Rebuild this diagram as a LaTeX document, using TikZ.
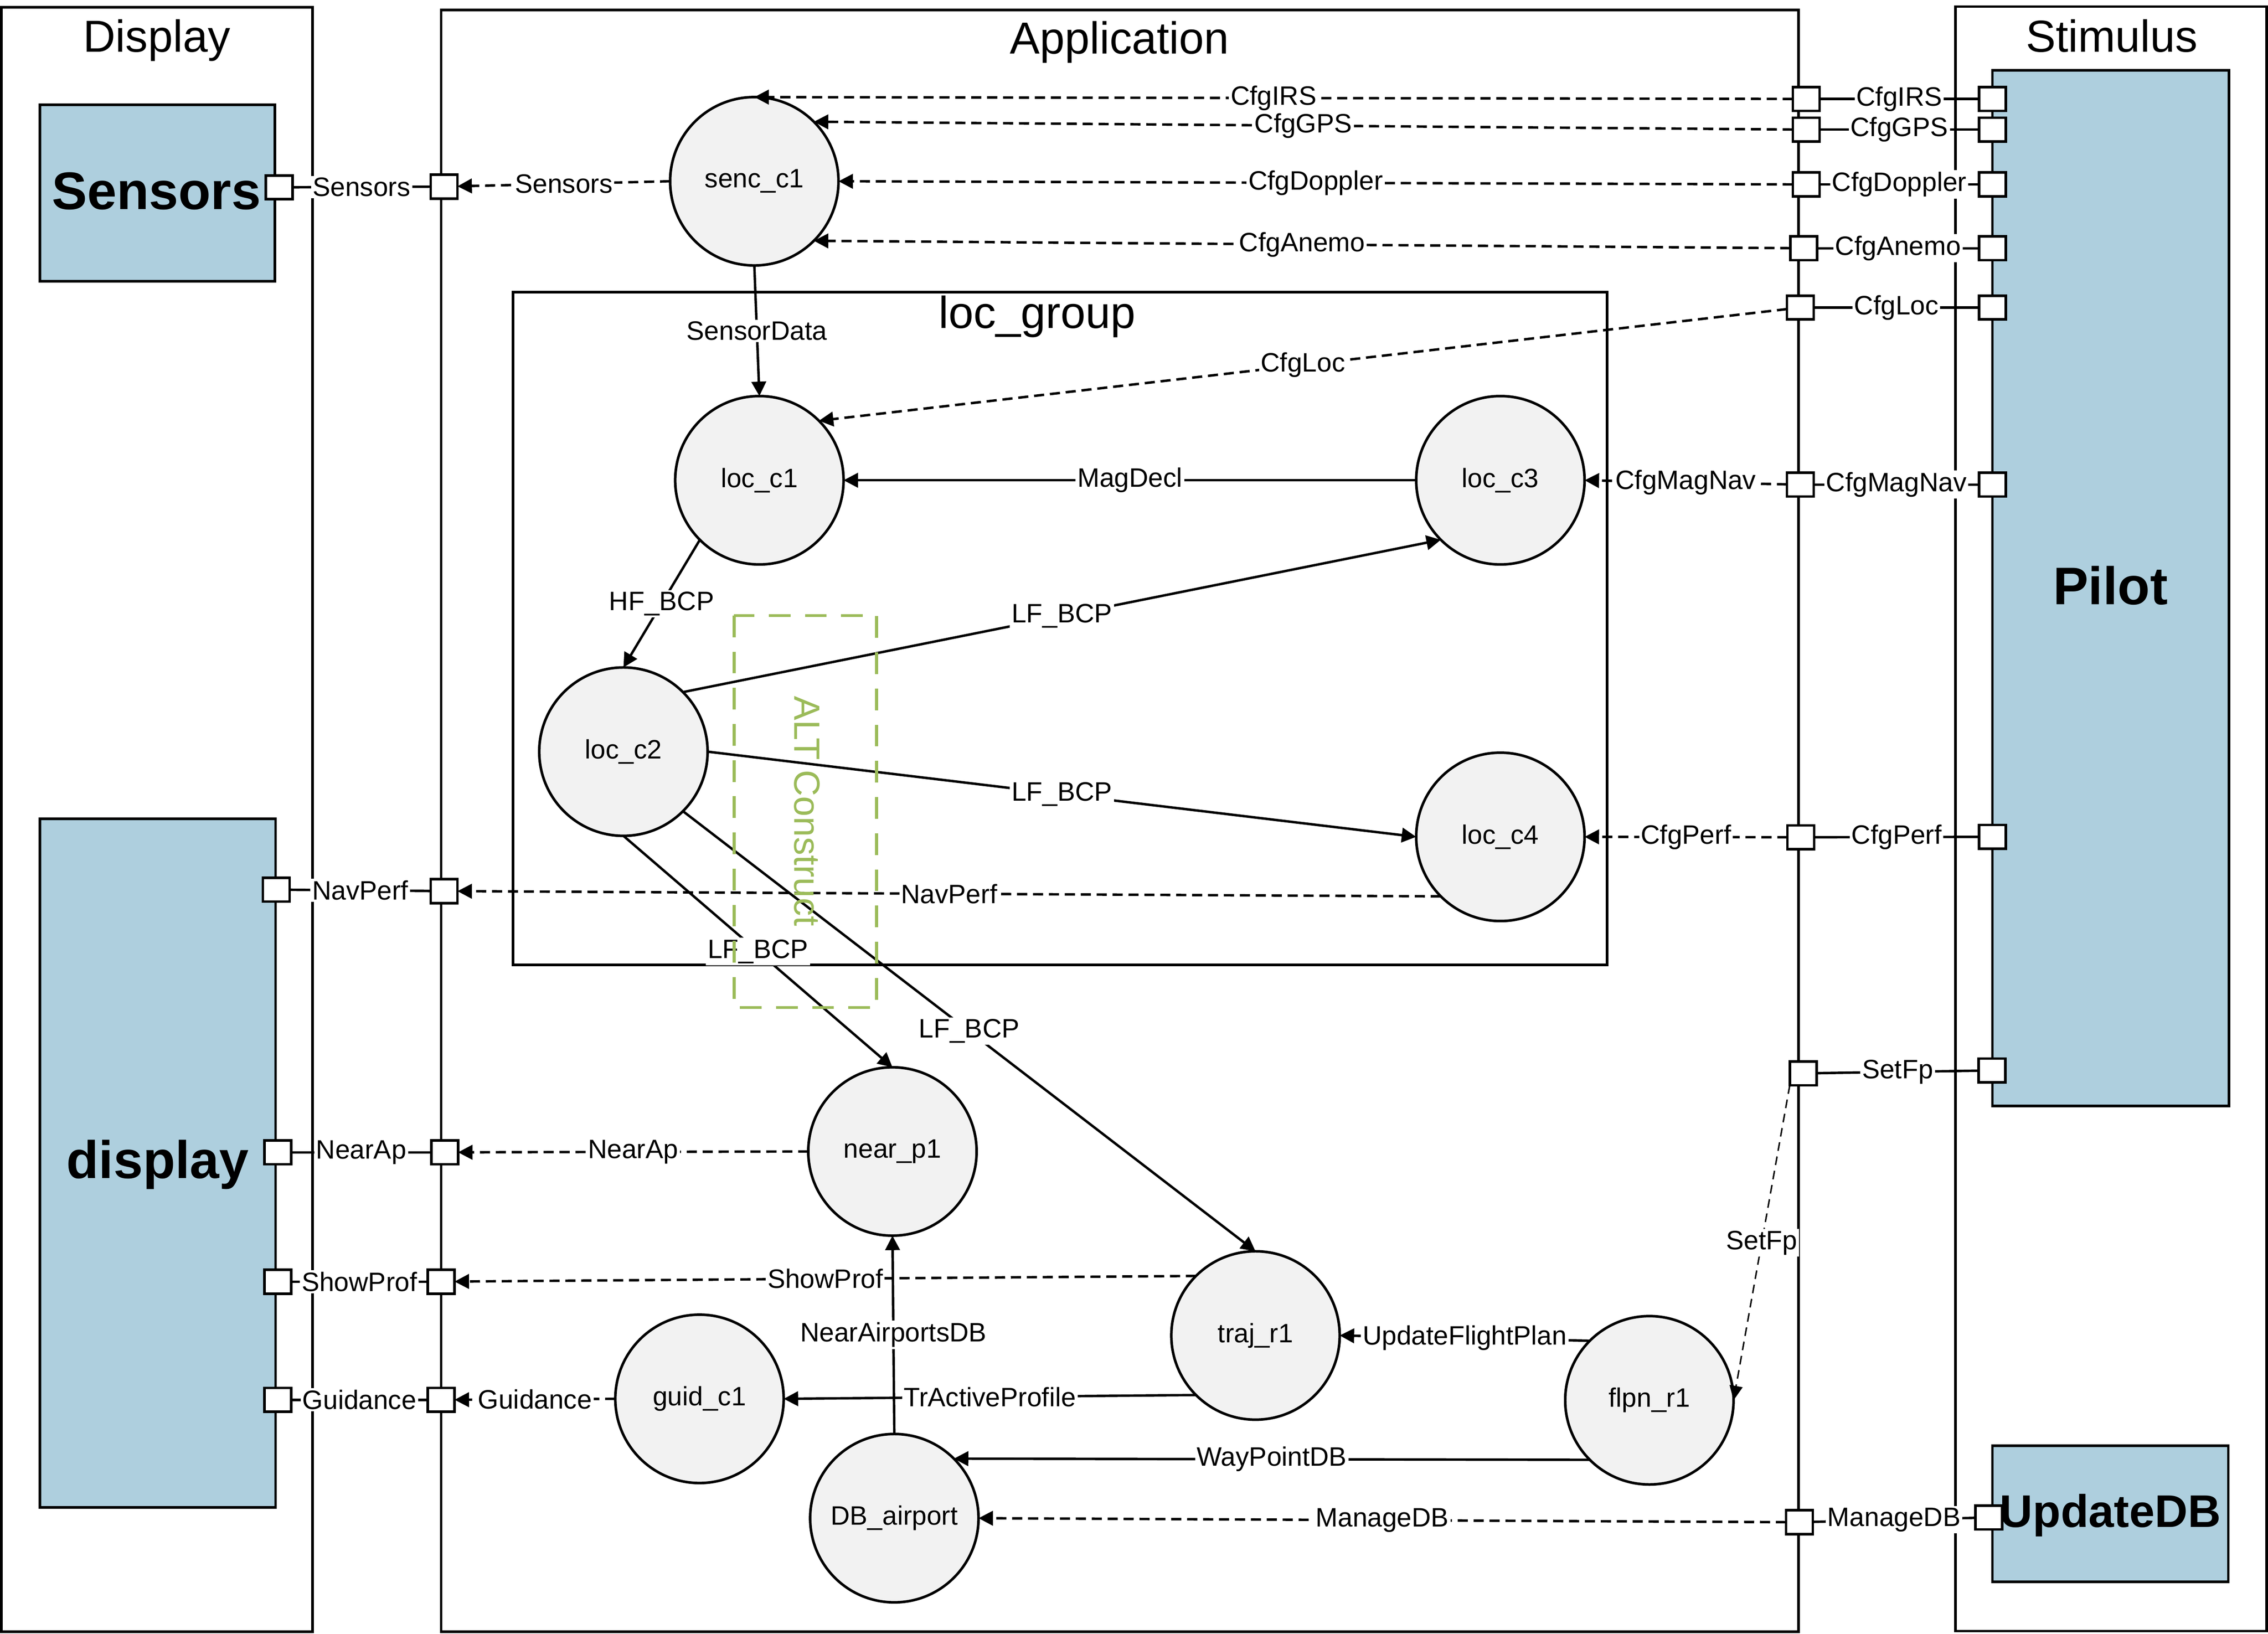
\documentclass[tikz,border=0pt]{standalone}
\usepackage{fontspec}
\setmainfont{Liberation Sans}
\usetikzlibrary{arrows.meta}
\definecolor{boxblue}{RGB}{174,207,222}
\definecolor{procgray}{RGB}{242,242,242}
\definecolor{altgreen}{RGB}{155,187,89}
\begin{document}
\begin{tikzpicture}[x=0.5pt,y=-0.5pt,
 frame/.style={draw,line width=0.9pt},
 comp/.style={draw,line width=0.9pt,fill=boxblue},
 grp/.style={draw,line width=0.9pt},
 altbox/.style={draw=altgreen,line width=1pt,dash pattern=on 7.5pt off 5pt},
 title/.style={font=\fontsize{15.5}{18}\selectfont,anchor=base,inner sep=0pt},
 big/.style={font=\fontsize{18.3}{22}\selectfont\bfseries,anchor=base,inner sep=0pt},
 proc/.style={circle,draw,line width=0.9pt,fill=procgray,minimum size=58.2pt,inner sep=0pt,outer sep=0pt,font=\fontsize{9.2}{11}\selectfont},
 port/.style={draw,line width=0.9pt,fill=white,minimum width=9.25pt,minimum height=8.25pt,inner sep=0pt,outer sep=0pt},
 lbl/.style={fill=white,inner sep=0.6pt,font=\fontsize{9.2}{11}\selectfont,midway},
 flow/.style={line width=0.85pt,-{Triangle[length=5pt,width=5pt]}},
 cfg/.style={flow,dash pattern=on 3.5pt off 2pt},
 thincfg/.style={line width=0.5pt,-{Triangle[length=5pt,width=4.5pt]},dash pattern=on 3pt off 2pt},
 link/.style={line width=0.85pt},
]
\useasboundingbox (0,0) rectangle (1568,1129.47);
% frames and components
\draw[frame] (1,5) rectangle (216,1128);
\draw[frame] (305,7) rectangle (1243.5,1128);
\draw[frame] (1352,4.5) rectangle (1567,1127.5);
\draw[comp] (27.5,72.5) rectangle (190,194.5);
\draw[comp] (27.5,566) rectangle (190.5,1042);
\draw[comp] (1377.5,48.5) rectangle (1541,764.5);
\draw[comp] (1377.5,999.5) rectangle (1540.5,1093.5);
\draw[grp] (354.6,202) rectangle (1111,667);
% titles
\node[title] (tDisp) at (108.4,36) {Display};
\node[title] (tApp) at (774,37) {Application};
\node[title] (tStim) at (1460,36) {Stimulus};
\node[title] (tLoc) at (717,227) {loc\_group};
\node[big] (bSens) at (108.2,144.6) {Sensors};
\node[big] (bDisp) at (109,814.5) {display};
\node[big] (bPilot) at (1459,418) {Pilot};
\node[big,font=\fontsize{15.8}{19}\selectfont\bfseries] (bUpd) at (1459,1055.8) {UpdateDB};
% processes
\node[proc] (senc) at (521.5,125.3) {senc\_c1};
\node[proc] (loc1) at (525,332) {loc\_c1};
\node[proc] (loc3) at (1037.3,332) {loc\_c3};
\node[proc] (loc2) at (431,519.6) {loc\_c2};
\node[proc] (loc4) at (1037.3,578.5) {loc\_c4};
\node[proc] (near) at (617,796) {near\_p1};
\node[proc] (guid) at (483.6,967) {guid\_c1};
\node[proc] (db) at (618.3,1049.5) {DB\_airport};
\node[proc] (traj) at (868,923.2) {traj\_r1};
\node[proc] (flpn) at (1140.3,968) {flpn\_r1};
% ports left
\node[port] (pSensD) at (193,129.5) {};
\node[port] (pSensA) at (307,129) {};
\node[port] (pNavD) at (191,615) {};
\node[port] (pNavA) at (307,616) {};
\node[port] (pNearD) at (192,796.6) {};
\node[port] (pNearA) at (307.4,796.6) {};
\node[port] (pShowD) at (192,886) {};
\node[port] (pShowA) at (305,886) {};
\node[port] (pGuidD) at (192,967.7) {};
\node[port] (pGuidA) at (305,967.7) {};
% ports right
\node[port] (pIRSa) at (1248.7,68.4) {};
\node[port] (pIRSs) at (1377.4,68.4) {};
\node[port] (pGPSa) at (1248.7,89.6) {};
\node[port] (pGPSs) at (1377.4,89.6) {};
\node[port] (pDopa) at (1248.7,127.5) {};
\node[port] (pDops) at (1377.4,127.5) {};
\node[port] (pAnea) at (1247,171.6) {};
\node[port] (pAnes) at (1377.4,171.6) {};
\node[port] (pLoca) at (1244.7,212.6) {};
\node[port] (pLocs) at (1377.4,212.6) {};
\node[port] (pMaga) at (1244.7,335) {};
\node[port] (pMags) at (1377.4,335) {};
\node[port] (pPerfa) at (1245,578.8) {};
\node[port] (pPerfs) at (1377.4,578.5) {};
\node[port] (pSetFpa) at (1246.6,742) {};
\node[port] (pSetFps) at (1377.2,740) {};
\node[port] (pMDBa) at (1244,1052.3) {};
\node[port] (pMDBs) at (1375,1049) {};
% port links
\draw[link] (pSensD) -- node[lbl] (kSens) {Sensors} (pSensA);
\draw[link] (pNavD) -- node[lbl] (kNav) {NavPerf} (pNavA);
\draw[link] (pNearD) -- node[lbl] (kNear) {NearAp} (pNearA);
\draw[link] (pShowD) -- node[lbl] (kShow) {ShowProf} (pShowA);
\draw[link] (pGuidD) -- node[lbl] (kGuid) {Guidance} (pGuidA);
\draw[link] (pIRSs) -- node[lbl] (kIRS) {CfgIRS} (pIRSa);
\draw[link] (pGPSs) -- node[lbl] (kGPS) {CfgGPS} (pGPSa);
\draw[link] (pDops) -- node[lbl] (kDop) {CfgDoppler} (pDopa);
\draw[link] (pAnes) -- node[lbl] (kAne) {CfgAnemo} (pAnea);
\draw[link] (pLocs) -- node[lbl] (kLoc) {CfgLoc} (pLoca);
\draw[link] (pMags) -- node[lbl] (kMag) {CfgMagNav} (pMaga);
\draw[link] (pPerfs) -- node[lbl] (kPerf) {CfgPerf} (pPerfa);
\draw[link] (pSetFps) -- node[lbl] (kSetFp) {SetFp} (pSetFpa);
\draw[link] (pMDBs) -- node[lbl] (kMDB) {ManageDB} (pMDBa);
% configuration flows (dashed)
\draw[cfg] (pIRSa) -- node[lbl] (dIRS) {CfgIRS} (senc.north);
\draw[cfg] (pGPSa) -- node[lbl] (dGPS) {CfgGPS} (senc.45);
\draw[cfg] (pDopa) -- node[lbl] (dDop) {CfgDoppler} (senc.east);
\draw[cfg] (pAnea) -- node[lbl] (dAne) {CfgAnemo} (senc.-45);
\draw[cfg] (pLoca) -- node[lbl] (dLoc) {CfgLoc} (loc1.45);
\draw[cfg] (pMaga) -- node[lbl] (dMag) {CfgMagNav} (loc3.east);
\draw[cfg] (pPerfa) -- node[lbl] (dPerf) {CfgPerf} (loc4.east);
\draw[thincfg] (pSetFpa.south west) -- node[lbl] (dSetFp) {SetFp} (flpn.east);
\draw[cfg] (pMDBa) -- node[lbl] (dMDB) {ManageDB} (db.east);
\draw[cfg] (senc.west) -- node[lbl] (dSens) {Sensors} (pSensA);
\draw[cfg] (loc4.225) -- node[lbl] (dNav) {NavPerf} (pNavA);
\draw[cfg] (near.west) -- node[lbl] (dNear) {NearAp} (pNearA);
\draw[cfg] (traj.135) -- node[lbl] (dShow) {ShowProf} (pShowA);
\draw[cfg] (guid.west) -- node[lbl] (dGuid) {Guidance} (pGuidA);
% data flows (solid)
\draw[flow] (senc.south) -- node[lbl] (fSD) {SensorData} (loc1.north);
\draw[flow] (loc3.west) -- node[lbl] (fMD) {MagDecl} (loc1.east);
\draw[flow] (loc1.225) -- node[lbl] (fHF) {HF\_BCP} (loc2.north);
\draw[flow] (loc2.45) -- node[lbl] (fLF1) {LF\_BCP} (loc3.225);
\draw[flow] (loc2.east) -- node[lbl] (fLF2) {LF\_BCP} (loc4.west);
\draw[flow] (loc2.south) -- node[lbl] (fLF3) {LF\_BCP} (near.north);
\draw[flow] (loc2.-45) -- node[lbl] (fLF4) {LF\_BCP} (traj.north);
\draw[flow] (flpn.135) -- node[lbl] (fUFP) {UpdateFlightPlan} (traj.east);
\draw[flow] (flpn.225) -- node[lbl] (fWP) {WayPointDB} (db.45);
\draw[flow] (traj.225) -- node[lbl] (fTAP) {TrActiveProfile} (guid.east);
\draw[flow] (db.north) -- node[lbl] (fNADB) {NearAirportsDB} (near.south);
% ALT construct
\draw[altbox] (507.5,425.5) rectangle (606,696.5);
\node[text=altgreen,rotate=-90,font=\fontsize{12.6}{15}\selectfont,inner sep=0pt] (alt) at (558,560.7) {ALT Construct};
\end{tikzpicture}
\end{document}
